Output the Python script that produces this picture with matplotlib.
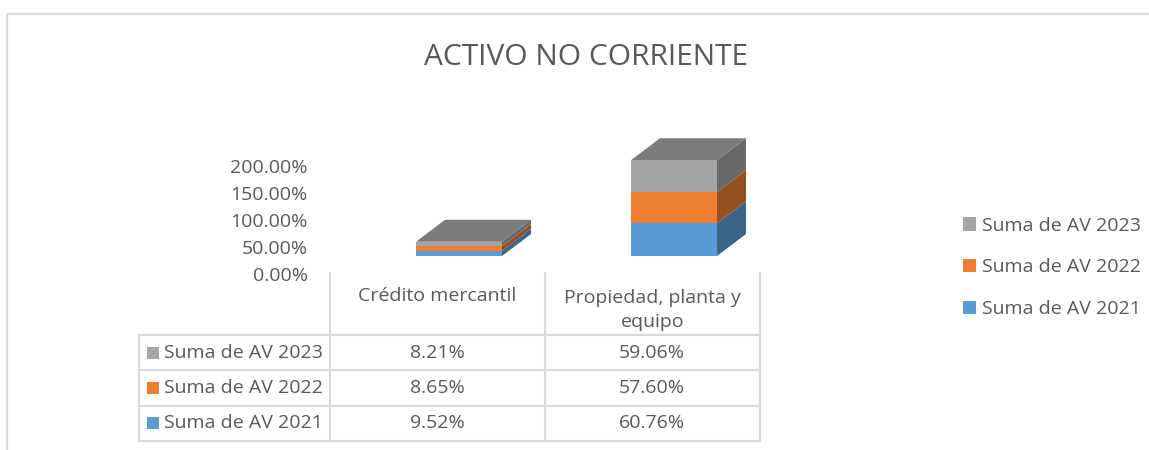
import numpy as np
from matplotlib import pyplot as plt
from matplotlib.patches import Polygon, Rectangle
from matplotlib.transforms import ScaledTranslation

plt.rcParams['font.family'] = ['Open Sans', 'DejaVu Sans']

categories = ['Crédito mercantil', 'Propiedad, planta y\nequipo']
series_names = ['Suma de AV 2021', 'Suma de AV 2022', 'Suma de AV 2023']
av_2021 = [9.52, 60.76]
av_2022 = [8.65, 57.60]
av_2023 = [8.21, 59.06]
yticks = [0, 50, 100, 150, 200]
ytick_labels = ['0.00%', '50.00%', '100.00%', '150.00%', '200.00%']

W, H = 1149, 450
TXT = '#595959'
GRID = '#d9d9d9'
colors = ['#5b9bd5', '#ed7d31', '#a5a5a5']
side_colors = ['#3a6488', '#964f1e', '#686868']
top_color = '#7c7c7c'

fig = plt.figure(figsize=(W / 100, H / 100), dpi=100)

# overlay in pixels, for frame and data table
bg = fig.add_axes([0, 0, 1, 1])
bg.set_xlim(0, W)
bg.set_ylim(H, 0)
bg.axis('off')
bg.plot([7, 7, W], [H, 13.5, 13.5], color=GRID, lw=1.6, solid_joinstyle='miter')
bg.text(586, 57.5, 'ACTIVO NO CORRIENTE', color=TXT, fontsize=21.5, ha='center', va='center')

# chart axes
ax = fig.add_axes([330 / W, 1 - 256 / H, 430 / W, 108 / H])
ax.set_xlim(-0.5, 1.5)
ax.set_ylim(0, 200)
ax.patch.set_alpha(0)
for s in ax.spines.values():
    s.set_visible(False)
ax.set_xticks([])
ax.set_yticks(yticks)
ax.set_yticklabels(ytick_labels, color=TXT, fontsize=14)
ax.tick_params(axis='y', length=0, pad=16)
shift = ScaledTranslation(0, -18 / 100, fig.dpi_scale_trans)
for lab in ax.get_yticklabels():
    lab.set_transform(lab.get_transform() + shift)

xpos = np.arange(len(categories)) + 0.1
bar_w = 0.4
dx, dy = 0.135, 40.7  # depth of the 3d look
bottom = np.zeros(2)
handles = []
for vals, c, sc, name in zip([av_2021, av_2022, av_2023], colors, side_colors, series_names):
    vals = np.array(vals)
    b = ax.bar(xpos, vals, bar_w, bottom=bottom, color=c, label=name, clip_on=False, zorder=3)
    handles.append(b)
    for x, v, y0 in zip(xpos, vals, bottom):
        xr = x + bar_w / 2
        ax.add_patch(Polygon([(xr, y0), (xr + dx, y0 + dy), (xr + dx, y0 + v + dy), (xr, y0 + v)],
                             closed=True, fc=sc, ec='none', clip_on=False, zorder=2))
    bottom = bottom + vals
for x, t in zip(xpos, bottom):
    xl, xr = x - bar_w / 2, x + bar_w / 2
    ax.add_patch(Polygon([(xl, t), (xr, t), (xr + dx, t + dy), (xl + dx, t + dy)],
                         closed=True, fc=top_color, ec='none', clip_on=False, zorder=2))

# data table
col_x = [330, 544.5, 760]
row_y = [335, 370, 405.5, 441]
row_left = 138.5
for x in col_x:
    bg.plot([x, x], [273, row_y[-1]], color=GRID, lw=1.5)
bg.plot([row_left, row_left], [row_y[0], row_y[-1]], color=GRID, lw=1.5)
for y in row_y:
    bg.plot([row_left, col_x[-1]], [y, y], color=GRID, lw=1.5)

bg.text(437, 296, categories[0], color=TXT, fontsize=14, ha='center', va='center')
bg.text(652.5, 310, categories[1], color=TXT, fontsize=14, ha='center', va='center', linespacing=1.4)

rows = [av_2023, av_2022, av_2021]
row_names = series_names[::-1]
row_colors = colors[::-1]
for i, (vals, name, c) in enumerate(zip(rows, row_names, row_colors)):
    yc = (row_y[i] + row_y[i + 1]) / 2
    bg.add_patch(Rectangle((147, yc - 6), 12, 12, fc=c, ec='none'))
    bg.text(164, yc, name, color=TXT, fontsize=14, ha='left', va='center')
    for j, v in enumerate(vals):
        bg.text((col_x[j] + col_x[j + 1]) / 2, yc, '%.2f%%' % v, color=TXT, fontsize=14,
                ha='center', va='center')

# legend on the right
leg = fig.legend(handles[::-1], series_names[::-1], loc='center left',
                 bbox_to_anchor=(963 / W, 1 - 267.5 / H), frameon=False, fontsize=14,
                 labelcolor=TXT, handlelength=0.68, handleheight=0.68, handletextpad=0.31,
                 labelspacing=1.22, borderpad=0, borderaxespad=0)

fig.savefig('out.png', dpi=100)
